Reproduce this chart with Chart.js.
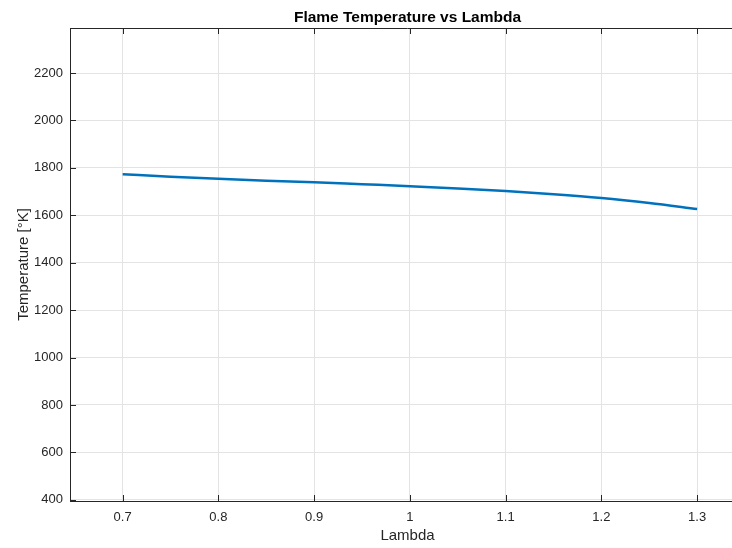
<!DOCTYPE html>
<html>
<head>
<meta charset="utf-8">
<script src="https://cdn.jsdelivr.net/npm/chart.js@4"></script>
<style>
  html, body { margin: 0; padding: 0; background: #fff; overflow: hidden; }
  #wrap { width: 732px; height: 548px; overflow: hidden; }
</style>
</head>
<body>
<div id="wrap"><canvas id="chart" width="760" height="548"></canvas></div>
<script>
const lambdaValues = [0.7, 0.75, 0.8, 0.85, 0.9, 0.95, 1.0, 1.05, 1.1, 1.15, 1.2, 1.25, 1.3]
const flameTemps = [1773, 1763, 1754, 1746, 1739, 1731, 1723, 1713, 1702, 1689, 1673, 1652, 1627]
const xTicks = [0.7, 0.8, 0.9, 1.0, 1.1, 1.2, 1.3]
const yTicks = [400, 600, 800, 1000, 1200, 1400, 1600, 1800, 2000, 2200]

const fontFamily = 'Liberation Sans, Arial, sans-serif'
const tickFont = { family: fontFamily, size: 13 }

// inward tick marks + top border like the MATLAB axes box
const boxPlugin = {
    id: 'box',
    afterDraw(chart) {
        const ctx = chart.ctx
        const { left, right, top, bottom } = chart.chartArea
        const xs = chart.scales.x
        const ys = chart.scales.y
        ctx.save()
        ctx.strokeStyle = '#262626'
        ctx.lineWidth = 1
        ctx.beginPath()
        ctx.moveTo(left, top + 0.5)
        ctx.lineTo(right, top + 0.5)
        ctx.moveTo(right - 0.5, top)
        ctx.lineTo(right - 0.5, bottom)
        xTicks.forEach((v) => {
            const px = Math.round(xs.getPixelForValue(v)) + 0.5
            ctx.moveTo(px, bottom)
            ctx.lineTo(px, bottom - 6)
            ctx.moveTo(px, top)
            ctx.lineTo(px, top + 6)
        })
        yTicks.forEach((v) => {
            const py = Math.round(ys.getPixelForValue(v)) + 0.5
            ctx.moveTo(left, py)
            ctx.lineTo(left + 6, py)
            ctx.moveTo(right, py)
            ctx.lineTo(right - 6, py)
        })
        ctx.stroke()
        ctx.restore()
    },
}

new Chart(document.getElementById('chart'), {
    type: 'line',
    data: {
        datasets: [
            {
                data: lambdaValues.map((x, i) => ({ x: x, y: flameTemps[i] })),
                borderColor: '#0072BD',
                borderWidth: 2.5,
                pointRadius: 0,
                cubicInterpolationMode: 'monotone',
                fill: false,
            },
        ],
    },
    options: {
        responsive: false,
        animation: false,
        devicePixelRatio: 1,
        layout: { padding: { top: 0, right: 15, bottom: 0, left: 0 } },
        plugins: {
            legend: { display: false },
            tooltip: { enabled: false },
            title: {
                display: true,
                fullSize: false,
                text: 'Flame Temperature vs Lambda',
                color: '#000',
                font: { family: fontFamily, size: 15.5, weight: 'bold' },
                padding: { top: 8, bottom: 1.4 },
            },
        },
        scales: {
            x: {
                type: 'linear',
                min: 0.645,
                max: 1.35,
                afterBuildTicks: (scale) => {
                    scale.ticks = xTicks.map((v) => ({ value: v }))
                },
                afterFit: (scale) => {
                    scale.height = 47
                },
                ticks: {
                    color: '#262626',
                    font: tickFont,
                    padding: 9,
                    maxRotation: 0,
                    callback: (v) => String(v),
                },
                grid: { color: '#e3e3e3', drawTicks: false },
                border: { display: true, color: '#262626' },
                title: {
                    display: true,
                    text: 'Lambda',
                    color: '#262626',
                    font: { family: fontFamily, size: 15 },
                    padding: { top: 0, bottom: 3 },
                },
            },
            y: {
                min: 395,
                max: 2390,
                afterBuildTicks: (scale) => {
                    scale.ticks = yTicks.map((v) => ({ value: v }))
                },
                afterFit: (scale) => {
                    scale.width = 70
                },
                ticks: {
                    color: '#262626',
                    font: tickFont,
                    padding: 7,
                    callback: (v) => String(v),
                },
                grid: { color: '#e3e3e3', drawTicks: false },
                border: { display: true, color: '#262626' },
                title: {
                    display: true,
                    text: 'Temperature [°K]',
                    color: '#262626',
                    font: { family: fontFamily, size: 15 },
                    padding: { top: 15, bottom: 0 },
                },
            },
        },
    },
    plugins: [boxPlugin],
})
</script>
</body>
</html>
